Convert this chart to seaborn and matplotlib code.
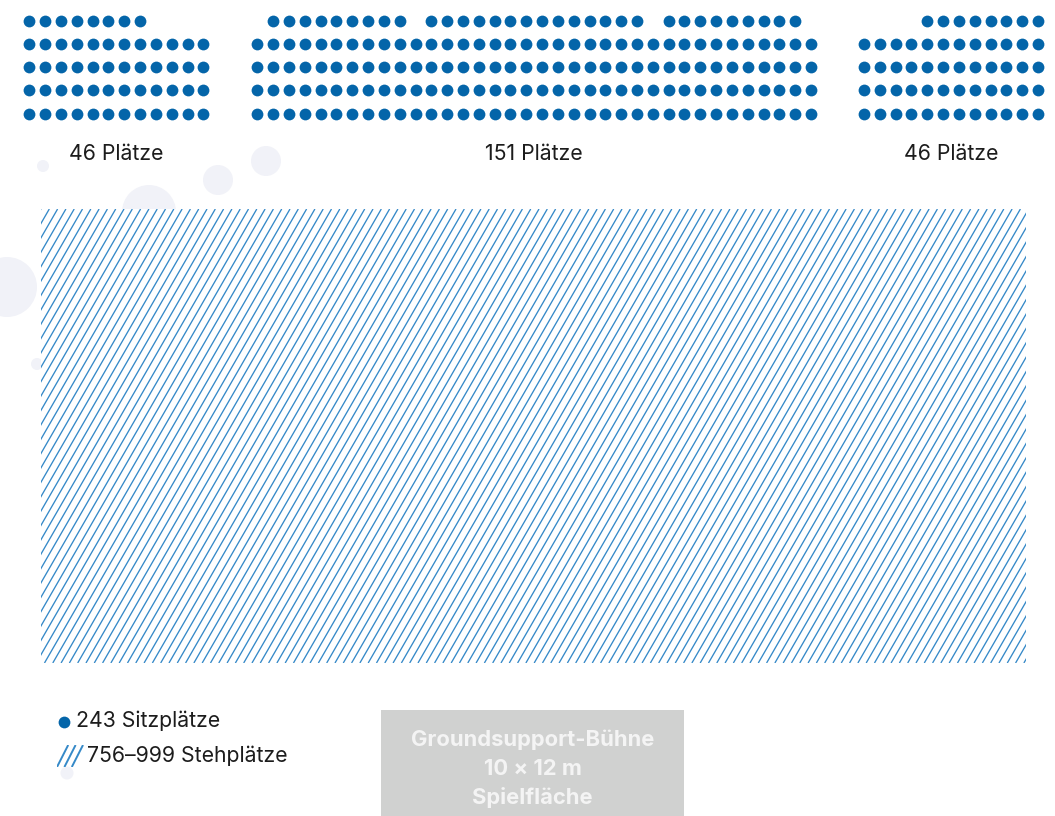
import numpy as np
import pandas as pd
import seaborn as sns
import matplotlib.pyplot as plt
from matplotlib.patches import Rectangle, Circle

# Sitzblöcke (links, Mitte, rechts)
block_labels = ['46 Plätze', '151 Plätze', '46 Plätze']
full_row_seats = [12, 36, 12]   # Plätze pro voller Reihe
full_rows = [4, 4, 4]           # Anzahl voller Reihen
# hinterste Reihe: belegte Spalten als (von, bis) – Lücken sind Gänge
back_row_runs = [[(0, 8)], [(1, 10), (11, 25), (26, 35)], [(4, 12)]]

legend_labels = ['243 Sitzplätze', '756–999 Stehplätze']
stage_lines = ['Groundsupport-Bühne', '10 × 12 m', 'Spielfläche']

# Layout (Pixelraster der Vorlage)
W, H = 1055, 816
block_x0 = [29.3, 257.3, 864.0]
pitch_x, pitch_y, first_row_y = 15.82, 23.2, 20.7
label_y = 154
standing_area = (41, 209, 1026, 663)
stage_box = (381, 710, 684, 816)
deco_circles = [(43, 166, 6), (218, 180, 15), (266, 161, 15), (149, 212, 27),
                (7, 287, 30), (37, 364, 6), (67, 773, 6.5)]

blue = '#0465a9'
hatch_blue = '#3589c8'
text_col = '#1c1c1c'

rows = []
for b in range(len(block_labels)):
    for start, end in back_row_runs[b]:
        for c in range(start, end):
            rows.append((b, 0, c))
    for r in range(1, full_rows[b] + 1):
        for c in range(full_row_seats[b]):
            rows.append((b, r, c))
seats = pd.DataFrame(rows, columns=['block', 'row', 'col'])
seats['x'] = [block_x0[b] for b in seats['block']] + seats['col'] * pitch_x
seats['y'] = first_row_y + seats['row'] * pitch_y

sns.set_style('white')
plt.rcParams['font.family'] = ['Inter', 'DejaVu Sans']

fig = plt.figure(figsize=(W / 100, H / 100), dpi=100)
ax = fig.add_axes([0, 0, 1, 1])

for cx, cy, r in deco_circles:
    ax.add_patch(Circle((cx, cy), r, facecolor='#f1f2f8', edgecolor='none', zorder=0))


def hatch(ax, x0, y0, x1, y1, step, angle=60, fill=True, full_only=False, lw=1.0):
    rect = Rectangle((x0, y0), x1 - x0, y1 - y0, facecolor='white' if fill else 'none',
                     edgecolor='none', zorder=2)
    ax.add_patch(rect)
    run = (y1 - y0) / np.tan(np.radians(angle))
    starts = np.arange(x0, x1 - run + 0.5, step) if full_only else np.arange(x0 - run, x1, step)
    for c in starts:
        line, = ax.plot([c, c + run], [y1, y0], color=hatch_blue, lw=lw, zorder=3,
                        solid_capstyle='butt')
        line.set_clip_path(rect)


hatch(ax, *standing_area, step=8.3, angle=60, lw=0.95)

sns.scatterplot(data=seats, x='x', y='y', color=blue, s=72, linewidth=0,
                legend=False, ax=ax, zorder=4)

for b, lab in enumerate(block_labels):
    xc = block_x0[b] + (full_row_seats[b] - 1) * pitch_x / 2
    ax.text(xc, label_y, lab, ha='center', va='center', fontsize=15.3, color=text_col)

# Legende
ax.scatter([64], [722], s=72, color=blue, linewidth=0, zorder=4)
ax.text(76, 721, legend_labels[0], ha='left', va='center', fontsize=15.3, color=text_col)
hatch(ax, 57, 745, 85, 767, step=7.4, angle=63, fill=False, full_only=True, lw=1.4)
ax.text(87, 756, legend_labels[1], ha='left', va='center', fontsize=15.3, color=text_col)

# Bühne
sx0, sy0, sx1, sy1 = stage_box
ax.add_patch(Rectangle((sx0, sy0), sx1 - sx0, sy1 - sy0, facecolor='#d0d1d0',
                       edgecolor='none', zorder=2))
for i, line in enumerate(stage_lines):
    ax.text((sx0 + sx1) / 2, 740 + i * 29, line, ha='center', va='center',
            fontsize=15.8, fontweight='bold', color='#f4f4f4', zorder=5)

ax.set_xlim(0, W)
ax.set_ylim(H, 0)
ax.axis('off')

fig.savefig('out.png', dpi=100, facecolor='white')
